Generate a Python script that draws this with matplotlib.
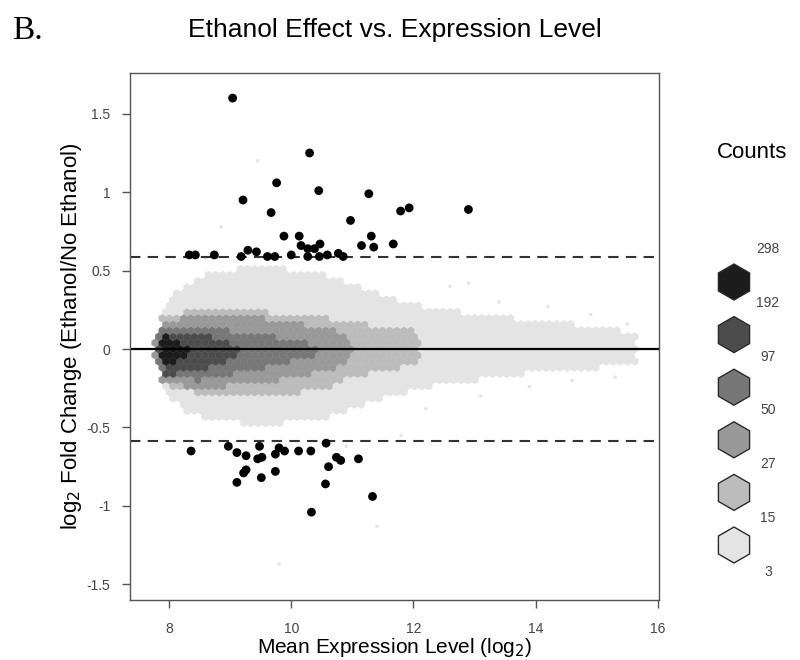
import numpy as np
import matplotlib.pyplot as plt
from matplotlib.collections import PolyCollection
from matplotlib.patches import RegularPolygon

plt.rcParams["font.family"] = ["Liberation Sans", "DejaVu Sans"]

# Genes passing the fold-change cut-off (black dots)
up_x = [9.04, 10.30, 9.76, 10.45, 9.21, 11.27, 9.67, 11.79, 11.93, 12.90,
        10.97, 9.88, 10.13, 11.31, 11.15, 11.35, 11.67, 10.47, 10.16, 10.27,
        10.38, 9.29, 9.43, 8.33, 8.43, 8.74, 9.18, 9.61, 9.73, 10.00,
        10.27, 10.46, 10.59, 10.77, 10.85]
up_y = [1.60, 1.25, 1.06, 1.01, 0.95, 0.99, 0.87, 0.88, 0.90, 0.89,
        0.82, 0.72, 0.72, 0.72, 0.66, 0.65, 0.67, 0.67, 0.66, 0.64,
        0.64, 0.63, 0.62, 0.60, 0.60, 0.60, 0.59, 0.59, 0.59, 0.60,
        0.59, 0.59, 0.60, 0.61, 0.59]
down_x = [8.36, 8.97, 9.11, 9.26, 9.48, 9.45, 9.52, 9.74, 9.80, 9.89,
          10.12, 10.32, 10.57, 10.74, 10.81, 11.10, 9.26, 9.22, 9.74, 9.11,
          9.51, 10.61, 10.56, 11.33, 10.33]
down_y = [-0.65, -0.62, -0.66, -0.68, -0.62, -0.70, -0.69, -0.67, -0.63, -0.65,
          -0.65, -0.65, -0.60, -0.69, -0.71, -0.70, -0.77, -0.79, -0.78, -0.85,
          -0.82, -0.75, -0.86, -0.94, -1.04]

cutoff = 0.585

# Hexbin count classes (legend breaks) and fill greys
count_breaks = [3, 15, 27, 50, 97, 192, 298]
class_colors = ["#e4e4e4", "#bcbcbc", "#999999", "#777777", "#4c4c4c", "#1c1c1c"]

# Outline of each count class: x, upper y, lower y
c1_x = [7.80, 7.95, 8.30, 8.80, 9.50, 10.30, 10.70, 11.10, 11.60, 12.10, 13.00, 14.00, 15.00, 15.65]
c1_hi = [0.10, 0.30, 0.42, 0.50, 0.52, 0.50, 0.46, 0.40, 0.33, 0.28, 0.22, 0.18, 0.14, 0.10]
c1_lo = [-0.10, -0.28, -0.40, -0.46, -0.48, -0.46, -0.42, -0.36, -0.30, -0.25, -0.20, -0.15, -0.12, -0.08]
c2_x = [7.75, 7.90, 8.50, 9.50, 10.50, 11.00, 11.50, 12.00, 12.10]
c2_hi = [0.05, 0.22, 0.25, 0.24, 0.20, 0.17, 0.14, 0.12, 0.04]
c2_lo = [-0.05, -0.22, -0.28, -0.30, -0.26, -0.18, -0.14, -0.10, -0.04]
c3_x = [7.75, 7.90, 8.50, 9.50, 10.30, 10.90, 11.00]
c3_hi = [0.05, 0.18, 0.22, 0.20, 0.15, 0.10, 0.03]
c3_lo = [-0.05, -0.22, -0.25, -0.22, -0.16, -0.10, -0.03]
c4_x = [7.78, 7.90, 8.50, 9.30, 10.00, 10.50]
c4_hi = [0.04, 0.15, 0.15, 0.10, 0.07, 0.02]
c4_lo = [-0.04, -0.18, -0.20, -0.14, -0.08, -0.02]
c5_x = [7.80, 7.95, 8.40, 8.90, 9.20]
c5_hi = [0.03, 0.12, 0.10, 0.06, 0.01]
c5_lo = [-0.03, -0.16, -0.15, -0.08, -0.01]
c6_x = [7.85, 7.95, 8.15, 8.35]
c6_hi = [0.02, 0.08, 0.06, 0.01]
c6_lo = [-0.02, -0.10, -0.08, -0.01]

# isolated single-gene cells outside the main cloud
speck_x = [9.45, 8.85, 11.40, 9.80, 12.60, 13.40, 14.20, 14.90, 15.30, 12.20,
           13.10, 13.90, 11.80, 8.60, 10.90, 12.90, 14.60, 15.50]
speck_y = [1.20, 0.78, -1.13, -1.37, 0.40, 0.30, 0.27, 0.22, -0.18, -0.38,
           -0.30, -0.24, -0.55, 0.58, -0.62, 0.42, -0.20, 0.16]

classes = [
    (c1_x, c1_hi, c1_lo),
    (c2_x, c2_hi, c2_lo),
    (c3_x, c3_hi, c3_lo),
    (c4_x, c4_hi, c4_lo),
    (c5_x, c5_hi, c5_lo),
    (c6_x, c6_hi, c6_lo),
]

W, H, DPI = 8.0, 6.6, 100
xlim = (7.36, 16.02)
ylim = (-1.60, 1.76)
ax_px = (130, 73, 659, 600)  # left, top, right, bottom in pixels

fig = plt.figure(figsize=(W, H), dpi=DPI)
ax = fig.add_axes([
    ax_px[0] / 800, 1 - ax_px[3] / 660,
    (ax_px[2] - ax_px[0]) / 800, (ax_px[3] - ax_px[1]) / 660,
])
ax.set_xlim(*xlim)
ax.set_ylim(*ylim)

# data units per pixel, to keep hexagons regular on screen
sx = (xlim[1] - xlim[0]) / (ax_px[2] - ax_px[0])
sy = (ylim[1] - ylim[0]) / (ax_px[3] - ax_px[1])
r_px = 4.1
ang = np.deg2rad(90 + 60 * np.arange(6))
hex_dx = r_px * np.cos(ang) * sx
hex_dy = r_px * np.sin(ang) * sy
step_x = np.sqrt(3) * r_px * sx
step_y = 1.5 * r_px * sy

polys, colors = [], []
for j in range(-16, 17):
    yc = j * step_y
    off = 0.5 * step_x if j % 2 else 0.0
    for xc in np.arange(7.6, 15.9, step_x) + off:
        level = -1
        for k, (cx, chi, clo) in enumerate(classes):
            if cx[0] <= xc <= cx[-1]:
                if np.interp(xc, cx, clo) <= yc <= np.interp(xc, cx, chi):
                    level = k
        if level >= 0:
            polys.append(np.column_stack([xc + hex_dx, yc + hex_dy]))
            colors.append(class_colors[level])

ax.add_collection(PolyCollection(polys, facecolors=colors, edgecolors=colors,
                                 linewidths=0.3, zorder=1))

speck_polys = [np.column_stack([x + 0.5 * hex_dx, y + 0.5 * hex_dy])
               for x, y in zip(speck_x, speck_y)]
ax.add_collection(PolyCollection(speck_polys, facecolors="#e6e6e6",
                                 edgecolors="none", zorder=1))

ax.axhline(0, color="black", lw=1.6, zorder=2)
for c in (cutoff, -cutoff):
    ax.axhline(c, color="#333333", lw=1.5, ls=(0, (5, 3.5)), zorder=2)

ax.scatter(up_x + down_x, up_y + down_y, s=40, color="black",
           edgecolors="none", zorder=3)

for sp in ax.spines.values():
    sp.set_color("#555555")
    sp.set_linewidth(1.0)

ax.set_xticks([8, 10, 12, 14, 16])
ax.set_xticklabels(["8", "10", "12", "14", "16"])
ax.set_yticks([1.5, 1, 0.5, 0, -0.5, -1, -1.5])
ax.set_yticklabels(["1.5", "1", "0.5", "0", "-0.5", "-1", "-1.5"])
ax.tick_params(axis="both", length=6, width=1.0, color="#555555",
               labelcolor="#444444", labelsize=10)
ax.tick_params(axis="x", pad=10)
ax.tick_params(axis="y", pad=8)

ax.set_xlabel("Mean Expression Level (log$_2$)", fontsize=15, labelpad=0)
ax.set_ylabel("log$_2$ Fold Change (Ethanol/No Ethanol)", fontsize=16,
              labelpad=2)

fig.text(395 / 800, 1 - 30 / 660, "Ethanol Effect vs. Expression Level",
         ha="center", va="center", fontsize=19,
         family=["Liberation Sans Narrow", "Liberation Sans"])
fig.text(12 / 800, 1 - 31 / 660, "B.", ha="left", va="center",
         fontsize=24, family="Liberation Serif")

# legend: hexagon key for the count classes
lax = fig.add_axes([680 / 800, 0, 120 / 800, 1])
lax.set_xlim(680, 800)
lax.set_ylim(660, 0)
lax.axis("off")
lax.text(752, 153, "Counts", ha="center", va="center", fontsize=16)
for k, col in enumerate(class_colors[::-1]):
    lax.add_patch(RegularPolygon((734, 282 + k * 52.6), numVertices=6,
                                 radius=18, orientation=0, facecolor=col,
                                 edgecolor="#2a2a2a", lw=1.0))
for k, lab in enumerate(count_breaks[::-1]):
    lax.text(768, 249 + k * 53.8, str(lab), ha="center", va="center",
             fontsize=10, color="#444444")

fig.savefig("out.png", dpi=DPI)
